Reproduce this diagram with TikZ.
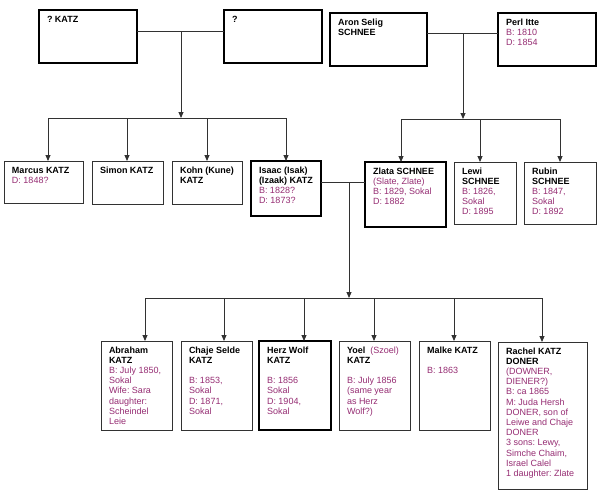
\documentclass[tikz,border=0pt]{standalone}
\usepackage{fontspec}
\setmainfont{Liberation Sans}
\usetikzlibrary{arrows.meta}
\definecolor{infoc}{RGB}{150,45,115}
\definecolor{linec}{RGB}{50,50,50}
\frenchspacing
\newcommand\card[3]{\parbox[c][#2pt][t]{#1pt}{\frenchspacing\leftskip=8pt\rightskip=0pt plus 1fil\parfillskip=0pt plus 1fil\rule{0pt}{12pt}#3}}
\newcommand\pinfo[1]{\textcolor{infoc}{#1}}
\begin{document}
\begin{tikzpicture}[x=1pt,y=-1pt,
  person/.style={draw=linec, line width=0.9pt, anchor=north west, inner sep=0pt, outer sep=0pt, fill=white, font=\fontsize{9}{10.2}\selectfont},
  heavy/.style={person, draw=black, line width=2pt},
  conn/.style={draw=linec, line width=0.9pt},
  arr/.style={conn, -{Triangle[width=5pt,length=6pt]}}]
\useasboundingbox[fill=white] (0,0) rectangle (600,496);

% top generation
\node[heavy] (pk) at (39,10) {\card{98}{53}{\textbf{? KATZ}}};
\node[heavy] (pq) at (224,10) {\card{98}{53}{\textbf{?}}};
\node[heavy] (aron) at (330,13) {\card{97}{53}{\textbf{Aron Selig}\\\textbf{SCHNEE}}};
\node[heavy] (perl) at (498,13) {\card{98}{53}{\textbf{Perl Itte}\\\pinfo{B: 1810}\\\pinfo{D: 1854}}};

% middle generation
\node[person] (marcus) at (4,161) {\card{79}{42}{\textbf{Marcus KATZ}\\\pinfo{D: 1848?}}};
\node[person] (simon) at (92,161) {\card{71}{43}{\textbf{Simon KATZ}}};
\node[person] (kohn) at (172,161) {\card{70}{43}{\textbf{Kohn (Kune)}\\\textbf{KATZ}}};
\node[heavy] (isaac) at (251,161) {\card{70}{55}{\textbf{Isaac (Isak)}\\\textbf{(Izaak) KATZ}\\\pinfo{B: 1828?}\\\pinfo{D: 1873?}}};
\node[heavy] (zlata) at (365,162) {\card{81}{65}{\textbf{Zlata SCHNEE}\\\pinfo{(Slate, Zlate)}\\\pinfo{B: 1829, Sokal}\\\pinfo{D: 1882}}};
\node[person] (lewi) at (454,162) {\card{62}{62}{\textbf{Lewi}\\\textbf{SCHNEE}\\\pinfo{B: 1826,}\\\pinfo{Sokal}\\\pinfo{D: 1895}}};
\node[person] (rubin) at (524,162) {\card{72}{62}{\textbf{Rubin}\\\textbf{SCHNEE}\\\pinfo{B: 1847,}\\\pinfo{Sokal}\\\pinfo{D: 1892}}};

% children
\node[person] (abraham) at (101,341) {\card{71}{89}{\textbf{Abraham}\\\textbf{KATZ}\\\pinfo{B: July 1850,}\\\pinfo{Sokal}\\\pinfo{Wife: Sara}\\\pinfo{daughter:}\\\pinfo{Scheindel}\\\pinfo{Leie}}};
\node[person] (chaje) at (181,341) {\card{71}{89}{\textbf{Chaje Selde}\\\textbf{KATZ}\\[10.2pt]\pinfo{B: 1853,}\\\pinfo{Sokal}\\\pinfo{D: 1871,}\\\pinfo{Sokal}}};
\node[heavy] (herz) at (259,341) {\card{72}{89}{\textbf{Herz Wolf}\\\textbf{KATZ}\\[10.2pt]\pinfo{B: 1856}\\\pinfo{Sokal}\\\pinfo{D: 1904,}\\\pinfo{Sokal}}};
\node[person] (yoel) at (339,341) {\card{71}{89}{\textbf{Yoel}\hspace{5pt}\pinfo{(Szoel)}\\\textbf{KATZ}\\[10.2pt]\pinfo{B: July 1856}\\\pinfo{(same year}\\\pinfo{as Herz}\\\pinfo{Wolf?)}}};
\node[person] (malke) at (419,341) {\card{71}{89}{\textbf{Malke KATZ}\\[10.2pt]\pinfo{B: 1863}}};
\node[person] (rachel) at (498,342) {\card{89}{147}{\textbf{Rachel KATZ}\\\textbf{DONER}\\\pinfo{(DOWNER,}\\\pinfo{DIENER?)}\\\pinfo{B: ca 1865}\\\pinfo{M: Juda Hersh}\\\pinfo{DONER, son of}\\\pinfo{Leiwe and Chaje}\\\pinfo{DONER}\\\pinfo{3 sons: Lewy,}\\\pinfo{Simche Chaim,}\\\pinfo{Israel Calel}\\\pinfo{1 daughter: Zlate}}};

% KATZ parents
\coordinate (m1) at (181,31);
\coordinate (b1) at (181,118);
\coordinate (k1) at (48,118);
\coordinate (k2) at (127,118);
\coordinate (k3) at (207,118);
\coordinate (k4) at (286,118);
\draw[conn] (pk.east |- m1) -- (pq.west |- m1);
\draw[arr] (m1) -- (b1);
\draw[conn] (k1) -- (k4);
\draw[arr] (k1) -- (k1 |- marcus.north);
\draw[arr] (k2) -- (k2 |- simon.north);
\draw[arr] (k3) -- (k3 |- kohn.north);
\draw[arr] (k4) -- (k4 |- isaac.north);

% SCHNEE parents
\coordinate (m2) at (463,33);
\coordinate (b2) at (463,119);
\coordinate (s1) at (401,119);
\coordinate (s2) at (480,119);
\coordinate (s3) at (560,119);
\draw[conn] (aron.east |- m2) -- (perl.west |- m2);
\draw[arr] (m2) -- (b2);
\draw[conn] (s1) -- (s3);
\draw[arr] (s1) -- (s1 |- zlata.north);
\draw[arr] (s2) -- (s2 |- lewi.north);
\draw[arr] (s3) -- (s3 |- rubin.north);

% Isaac + Zlata
\coordinate (m3) at (349,182);
\coordinate (b3) at (349,298);
\coordinate (c1) at (145,298);
\coordinate (c2) at (224,298);
\coordinate (c3) at (304,298);
\coordinate (c4) at (374,298);
\coordinate (c5) at (454,298);
\coordinate (c6) at (542,298);
\draw[conn] (isaac.east |- m3) -- (zlata.west |- m3);
\draw[arr] (m3) -- (b3);
\draw[conn] (c1) -- (c6);
\draw[arr] (c1) -- (c1 |- abraham.north);
\draw[arr] (c2) -- (c2 |- chaje.north);
\draw[arr] (c3) -- (c3 |- herz.north);
\draw[arr] (c4) -- (c4 |- yoel.north);
\draw[arr] (c5) -- (c5 |- malke.north);
\draw[arr] (c6) -- (c6 |- rachel.north);
\end{tikzpicture}
\end{document}
